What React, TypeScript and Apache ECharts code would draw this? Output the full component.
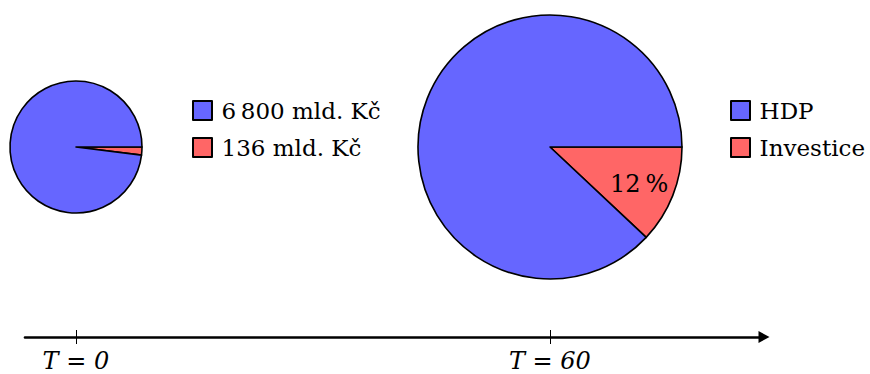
import React, { useEffect, useRef } from "react";
import * as echarts from "echarts";

// GDP vs. investment, in billions of CZK, at T = 0
const startNames = ["6\u2009800 mld. Kč", "136 mld. Kč"];
const startValues = [6800, 136];

// Shares in percent at T = 60
const laterNames = ["HDP", "Investice"];
const laterValues = [88, 12];

// Timeline ticks
const timeTicks = [0, 60];

const BLUE = "#6666ff";
const RED = "#ff6666";
const FONT = "DejaVu Serif";

export default function App() {
  const ref = useRef<HTMLDivElement>(null);

  useEffect(() => {
    if (!ref.current) return;
    const chart = echarts.init(ref.current, undefined, { renderer: "svg" });

    const border = { borderColor: "#000", borderWidth: 1.6 };
    const txt = { fontFamily: FONT, fontSize: 24, color: "#000" };

    const axisMin = -6.45;
    const axisMax = 87.1;

    const legendBase = {
      orient: "vertical",
      top: 96.5,
      padding: 0,
      itemWidth: 19,
      itemHeight: 19,
      itemGap: 9,
      icon: "rect",
      selectedMode: false,
      // thin space widens the gap between swatch and name
      formatter: (name: string) => `\u2009${name}`,
      textStyle: { ...txt, fontSize: 23, lineHeight: 28 },
    };

    chart.setOption({
      animation: false,
      textStyle: { fontFamily: FONT },
      legend: [
        { ...legendBase, left: 192, data: startNames },
        { ...legendBase, left: 730, data: laterNames },
      ],
      grid: { left: 25, right: 870 - 764, top: 300, bottom: 374 - 337 },
      xAxis: [
        {
          type: "value",
          min: axisMin,
          max: axisMax,
          position: "bottom",
          splitLine: { show: false },
          axisLine: {
            show: true,
            lineStyle: { color: "#000", width: 2.6 },
            symbol: ["none", "triangle"],
            symbolSize: [12, 11],
          },
          axisTick: {
            show: true,
            customValues: timeTicks,
            length: 7,
            lineStyle: { color: "#000", width: 1 },
          },
          axisLabel: {
            show: true,
            customValues: timeTicks,
            margin: 12,
            ...txt,
            fontStyle: "italic",
            formatter: (v: number) => `T = ${v}`,
          },
        },
        {
          type: "value",
          min: axisMin,
          max: axisMax,
          position: "bottom",
          splitLine: { show: false },
          axisLine: { show: false },
          axisTick: {
            show: true,
            inside: true,
            customValues: timeTicks,
            length: 7,
            lineStyle: { color: "#000", width: 1 },
          },
          axisLabel: { show: false },
        },
      ],
      yAxis: { type: "value", show: false },
      series: [
        {
          type: "pie",
          center: [76, 147],
          radius: 66,
          startAngle: 0,
          clockwise: true,
          label: { show: false },
          labelLine: { show: false },
          emphasis: { disabled: true },
          data: [
            { name: startNames[1], value: startValues[1], itemStyle: { color: RED, ...border } },
            { name: startNames[0], value: startValues[0], itemStyle: { color: BLUE, ...border } },
          ],
        },
        {
          type: "pie",
          center: [550, 147],
          radius: 132,
          startAngle: 0,
          clockwise: true,
          labelLine: { show: false },
          emphasis: { disabled: true },
          label: { show: false },
          labelLayout: { dx: 25, dy: 12 },
          data: [
            {
              name: laterNames[1],
              value: laterValues[1],
              itemStyle: { color: RED, ...border },
              label: {
                show: true,
                position: "inside",
                ...txt,
                formatter: (p: any) => `${Math.round(p.percent)}\u2009%`,
              },
            },
            { name: laterNames[0], value: laterValues[0], itemStyle: { color: BLUE, ...border } },
          ],
        },
      ],
    });

    return () => chart.dispose();
  }, []);

  return (
    <div
      ref={ref}
      style={{ position: "absolute", left: 0, top: 0, width: 870, height: 374, background: "#fff" }}
    />
  );
}
